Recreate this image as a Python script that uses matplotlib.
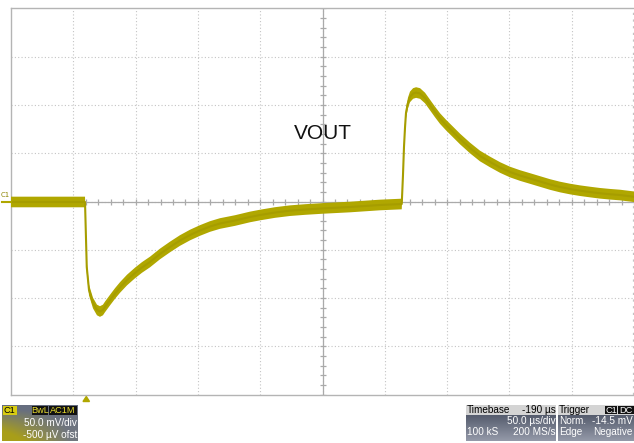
import numpy as np
import matplotlib.pyplot as plt
from matplotlib.patches import Rectangle, Polygon

# scope trace: time (us from left edge), level (mV)
t_us = [0, 30, 59.4, 60.8, 62.6, 65.8, 69.0, 71.4, 73.8, 75.4, 79.5, 83.5, 87.5,
        93.1, 99.5, 105.1, 111.6, 119.6, 127.6, 135.6, 143.7, 151.7, 159.7, 167.7,
        179.8, 191.8, 199.9, 211.9, 223.9, 236.0, 249.6, 272.1, 296.2, 313.6,
        314.6, 315.4, 316.2, 317.0, 318.6, 320.2, 322.7, 325.1, 328.3, 332.3,
        336.3, 340.3, 344.3, 349.1, 354.8, 360.4, 368.4, 376.4, 384.5, 392.5,
        400.5, 408.5, 416.6, 424.6, 432.6, 440.6, 448.7, 456.7, 464.7, 472.7,
        480.8, 488.8, 500]
vout_mv = [-0.5, -0.5, -0.5, -67.8, -91.6, -105.1, -112.3, -113.9, -112.3, -109.2,
           -102.0, -95.2, -89.0, -81.3, -74.0, -68.3, -62.6, -54.3, -47.1, -40.4,
           -34.7, -30.0, -25.9, -22.8, -19.7, -16.0, -14.0, -11.4, -9.5, -8.3,
           -7.2, -5.7, -3.6, -2.6, 27.4, 56.4, 76.1, 91.6, 102.0, 108.2, 111.8,
           112.8, 111.8, 107.1, 99.9, 92.7, 85.9, 79.2, 71.9, 64.7, 55.4, 47.1,
           40.9, 35.2, 30.5, 26.9, 23.8, 20.7, 17.6, 15.0, 12.9, 11.2, 9.8, 8.5,
           7.5, 6.7, 4.9]
noise_mv = 5.5

us_per_div = 50.0
mv_per_div = 50.0
trace_color = '#b0a700'
grid_color = '#c4c4c4'
axis_color = '#aaaaaa'

W, H = 634, 443
fig = plt.figure(figsize=(W / 100, H / 100), dpi=100)
fig.patch.set_facecolor('white')


def fx(x):
    return x / W


def fy(y):
    return 1 - y / H


# plot area (pixels from top-left): x 11..634, y 8.3..394.7
ax = fig.add_axes([fx(11), fy(394.7), (634 - 11) / W, (394.7 - 8.3) / H])
ax.set_xlim(0, 10 * us_per_div)
ax.set_ylim(-4 * mv_per_div, 4 * mv_per_div)
ax.set_xticks([])
ax.set_yticks([])
for side, sp in ax.spines.items():
    sp.set_color('#b4b4b4')
    sp.set_linewidth(1.0)
ax.spines['right'].set_visible(False)

# dotted graticule
for i in range(1, 10):
    ax.axvline(i * us_per_div, color=grid_color, lw=0.8, ls=(0, (1, 2)), zorder=1)
ax.axvline(10 * us_per_div, color=grid_color, lw=1.6, ls=(0, (1, 2)), zorder=1)
for j in range(-3, 4):
    ax.axhline(j * mv_per_div, color=grid_color, lw=0.8, ls=(0, (1, 2)), zorder=1)

# centre cross with sub-division ticks
ax.axhline(0, color=axis_color, lw=0.9, zorder=1.5)
ax.axvline(5 * us_per_div, color=axis_color, lw=0.9, zorder=1.5)
xt = np.arange(0, 10 * us_per_div + 1, us_per_div / 5)
yt = np.arange(-4 * mv_per_div, 4 * mv_per_div + 1, mv_per_div / 5)
ax.plot(xt, np.zeros_like(xt), ls='none', marker='|', ms=4.5, mew=0.9,
        color=axis_color, zorder=1.5)
ax.plot(np.full_like(yt, 5 * us_per_div), yt, ls='none', marker='_', ms=4.5,
        mew=0.9, color=axis_color, zorder=1.5)

# trace: noisy band drawn as its envelope
t = np.array(t_us)
v = np.array(vout_mv)
ax.fill_between(t, v - noise_mv, v + noise_mv, facecolor=trace_color, lw=0, zorder=3)
ax.plot(t, v, color='#a69d00', lw=1.5, zorder=3.5)

ax.text(5 * us_per_div, 70, 'VOUT', ha='center', va='center', fontsize=15,
        family='Liberation Sans', color='#111111')

# channel marker at the left
fig.add_artist(plt.Line2D([fx(1.5), fx(10.5)], [fy(201.5), fy(201.5)],
                          color=trace_color, lw=1.5))
fig.text(fx(0.5), fy(195), 'C1', fontsize=5, color='#8c8400', va='center')

# trigger marker under the plot
fig.add_artist(Polygon([[fx(83), fy(401.5)], [fx(89.5), fy(401.5)], [fx(86.3), fy(396.5)]],
                       closed=True, color=trace_color))


def panel(x0, x1, y0, y1, top_rgb, bot_rgb, left_rgb=None):
    pax = fig.add_axes([fx(x0), fy(y1), (x1 - x0) / W, (y1 - y0) / H])
    ny, nx = 40, 80
    g = np.linspace(0, 1, ny)[:, None, None]
    img = np.array(top_rgb)[None, None, :] * (1 - g) + np.array(bot_rgb)[None, None, :] * g
    img = np.repeat(img, nx, axis=1)
    if left_rgb is not None:
        gx = np.linspace(1, 0, nx)[None, :, None]
        gy = np.linspace(0, 1, ny)[:, None, None]
        wgt = np.clip(gx * gy * 1.6 - 0.15, 0, 1)
        img = img * (1 - wgt) + np.array(left_rgb)[None, None, :] * wgt
    pax.imshow(img, aspect='auto', extent=[0, 1, 0, 1], interpolation='bilinear')
    pax.set_xlim(0, 1)
    pax.set_ylim(0, 1)
    pax.axis('off')
    return pax


fam = ['Liberation Sans Narrow', 'Liberation Sans']
fs = 7.2


def label(x, y, s, ha='left', color='white', size=fs):
    fig.text(fx(x), fy(y), s, ha=ha, va='center', fontsize=size, color=color,
             family=fam)


def tag(x0, x1, y0, y1, text, fc, tc):
    fig.add_artist(Rectangle((fx(x0), fy(y1)), (x1 - x0) / W, (y1 - y0) / H,
                             facecolor=fc, edgecolor='none', transform=fig.transFigure))
    label((x0 + x1) / 2, (y0 + y1) / 2 + 0.3, text, ha='center', color=tc, size=6.6)


# channel box
panel(2, 78, 405, 441, (0.40, 0.43, 0.50), (0.45, 0.47, 0.50), left_rgb=(0.66, 0.62, 0.10))
tag(2.7, 16.7, 406, 415, 'C1', '#d8cc10', 'black')
tag(31.7, 48.3, 406, 415, 'BwL', '#111111', '#e8dc30')
tag(49.3, 76.5, 406, 415, 'AC1M', '#111111', '#e8dc30')
label(77, 423, '50.0 mV/div', ha='right')
label(77, 434.5, '-500 µV ofst', ha='right')

# timebase box
panel(466, 556, 405, 441, (0.24, 0.27, 0.34), (0.58, 0.60, 0.66))
fig.add_artist(Rectangle((fx(466), fy(414.5)), 90 / W, 9.5 / H, facecolor='#d4d4d4',
                         edgecolor='none', transform=fig.transFigure))
label(467, 410, 'Timebase', color='black')
label(555.5, 410, '-190 µs', ha='right', color='black')
label(555.5, 420.5, '50.0 µs/div', ha='right')
label(467, 432, '100 kS')
label(555.5, 432, '200 MS/s', ha='right')

# trigger box
panel(557.5, 634, 405, 441, (0.24, 0.27, 0.34), (0.58, 0.60, 0.66))
fig.add_artist(Rectangle((fx(557.5), fy(414.5)), 76.5 / W, 9.5 / H, facecolor='#d4d4d4',
                         edgecolor='none', transform=fig.transFigure))
label(559, 410, 'Trigger', color='black')
tag(605, 617, 405.5, 414, 'C1', '#111111', 'white')
tag(618, 633.5, 405.5, 414, 'DC', '#111111', 'white')
label(559, 420.5, 'Norm.')
label(632.5, 420.5, '-14.5 mV', ha='right')
label(559, 432, 'Edge')
label(632.5, 432, 'Negative', ha='right')

fig.savefig('out.png', dpi=100, facecolor='white')
